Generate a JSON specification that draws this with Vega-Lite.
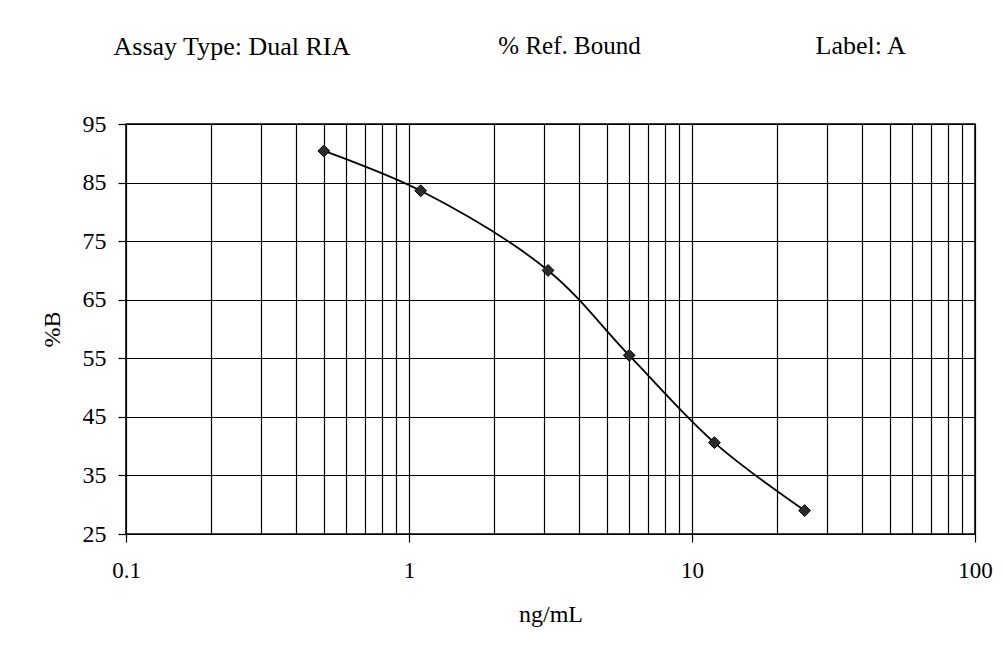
{
  "$schema": "https://vega.github.io/schema/vega-lite/v6.json",
  "width": 849,
  "height": 410,
  "autosize": {"type": "none"},
  "padding": {"left": 126, "top": 124, "right": 29, "bottom": 127},
  "background": "white",
  "config": {
    "view": {"stroke": "black", "strokeWidth": 1.5},
    "font": "Liberation Serif"
  },
  "title": {
    "text": "% Ref. Bound",
    "anchor": "middle",
    "frame": "group",
    "font": "Liberation Serif",
    "fontSize": 25,
    "fontWeight": "normal",
    "color": "black",
    "dx": 19,
    "dy": 31
  },
  "data": {
    "values": [
      {"conc": 0.5, "pctB": 90.4},
      {"conc": 1.1, "pctB": 83.6},
      {"conc": 3.1, "pctB": 70.0},
      {"conc": 6, "pctB": 55.5},
      {"conc": 12, "pctB": 40.6},
      {"conc": 25, "pctB": 29.0}
    ]
  },
  "resolve": {"axis": {"x": "independent", "y": "independent"}},
  "layer": [
    {
      "mark": {"type": "line", "interpolate": "catmull-rom", "color": "black", "strokeWidth": 1.8},
      "encoding": {
        "x": {
          "field": "conc", "type": "quantitative",
          "scale": {"type": "log", "domain": [0.1, 100]},
          "axis": {
            "orient": "bottom",
            "title": "ng/mL",
            "values": [0.1, 0.2, 0.3, 0.4, 0.5, 0.6, 0.7, 0.8, 0.9, 1, 2, 3, 4, 5, 6, 7, 8, 9, 10, 20, 30, 40, 50, 60, 70, 80, 90, 100],
            "grid": true, "gridColor": "black", "gridWidth": 1.2, "gridOpacity": 1,
            "domain": false,
            "tickColor": "black", "tickSize": 8, "tickWidth": 1.2,
            "tickOpacity": {"condition": {"test": "abs(log(datum.value)/LN10 - round(log(datum.value)/LN10)) < 0.000001", "value": 1}, "value": 0},
            "labelExpr": "abs(log(datum.value)/LN10 - round(log(datum.value)/LN10)) < 0.000001 ? toString(datum.value) : ''",
            "labelFont": "Liberation Serif", "labelFontSize": 23, "labelColor": "black",
            "labelPadding": 17, "labelFlush": false, "labelOverlap": false,
            "titleFont": "Liberation Serif", "titleFontSize": 24, "titleFontWeight": "normal", "titleColor": "black",
            "titlePadding": 20
          }
        },
        "y": {
          "field": "pctB", "type": "quantitative",
          "scale": {"domain": [25, 95], "nice": false, "zero": false},
          "axis": {
            "orient": "left",
            "title": "%B",
            "values": [25, 35, 45, 55, 65, 75, 85, 95],
            "grid": true, "gridColor": "black", "gridWidth": 1.2, "gridOpacity": 1,
            "domain": false,
            "tickColor": "black", "tickSize": 8, "tickWidth": 1.2,
            "labelFont": "Liberation Serif", "labelFontSize": 24, "labelColor": "black",
            "labelPadding": 12, "labelFlush": false, "labelOverlap": false,
            "titleFont": "Liberation Serif", "titleFontSize": 24, "titleFontWeight": "normal", "titleColor": "black",
            "titlePadding": 18
          }
        }
      }
    },
    {
      "mark": {"type": "point", "shape": "diamond", "filled": true, "color": "#2b2b2b", "stroke": "black", "strokeWidth": 1, "size": 140, "opacity": 1},
      "encoding": {
        "x": {
          "field": "conc", "type": "quantitative",
          "axis": {
            "orient": "top",
            "title": "Assay Type: Dual RIA",
            "labels": false, "ticks": false, "domain": false, "grid": false,
            "titleFont": "Liberation Serif", "titleFontSize": 26, "titleFontWeight": "normal", "titleColor": "black",
            "titleAnchor": "start", "titleAlign": "left", "titleBaseline": "alphabetic",
            "titleX": -13, "titleY": -70
          }
        },
        "y": {
          "field": "pctB", "type": "quantitative",
          "axis": {
            "orient": "right",
            "title": "Label: A",
            "labels": false, "ticks": false, "domain": false, "grid": false,
            "titleFont": "Liberation Serif", "titleFontSize": 26, "titleFontWeight": "normal", "titleColor": "black",
            "titleAngle": 0, "titleAlign": "left", "titleBaseline": "alphabetic",
            "titleX": -160, "titleY": -71
          }
        }
      }
    }
  ]
}
